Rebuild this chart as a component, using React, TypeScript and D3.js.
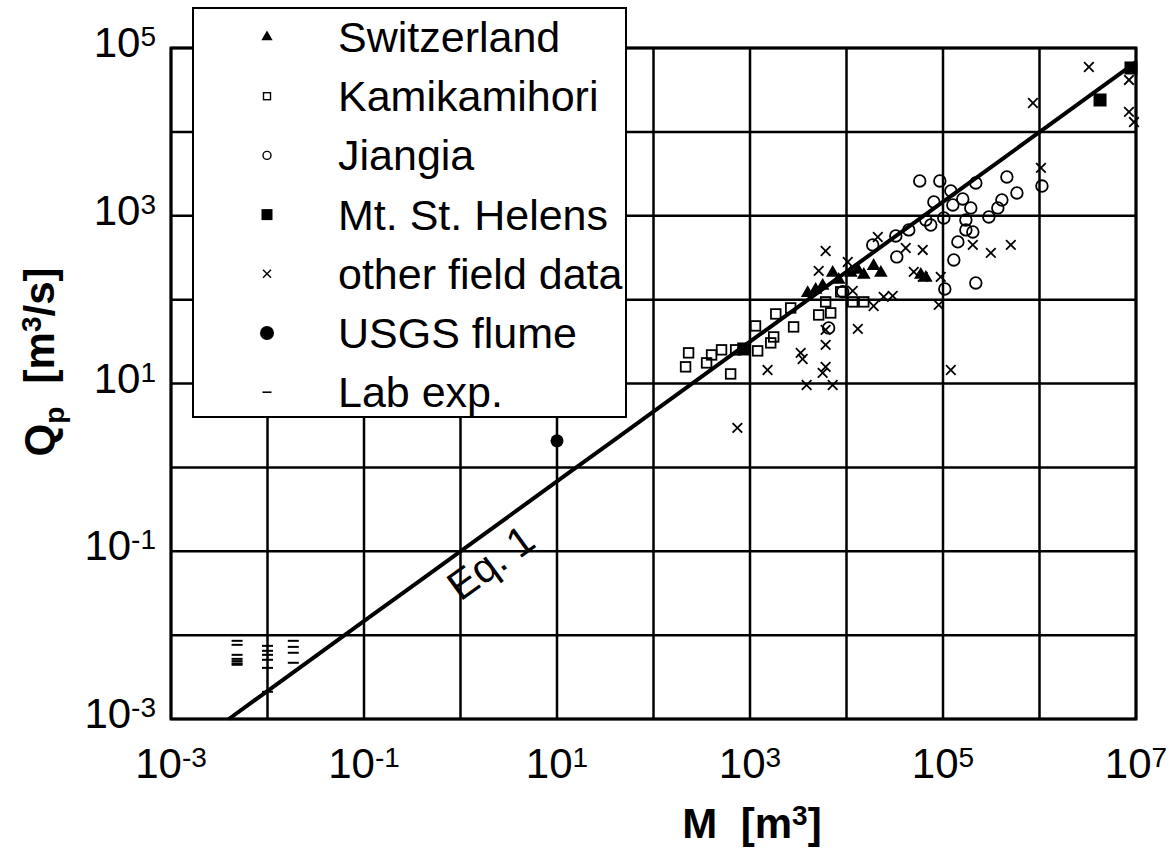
import React from 'react';
import * as d3 from 'd3';

// [M (m3), Qp (m3/s)]
const switzerland: [number, number][] = [
  [3960, 120], [4790, 131], [5660, 146], [7190, 208], [8300, 172], [11100, 208],
  [13100, 226], [15100, 197], [19100, 252], [22700, 208], [58900, 197], [66400, 182],
];

const kamikamihori: [number, number][] = [
  [231, 23.2], [215, 15.8], [355, 17.6], [400, 21.9], [507, 25.2], [630, 13.0],
  [710, 25.2], [1200, 24.5], [1140, 48.6], [1640, 30.5], [1760, 35.9], [1850, 67.5],
  [2830, 47.3], [2640, 79.6], [5150, 65.7], [6080, 94], [6860, 69.4], [8710, 124],
  [11600, 94], [15100, 94],
];

const jiangia: [number, number][] = [
  [57400, 2600], [92700, 2600], [120500, 1980], [80400, 1460], [126500, 1345],
  [160300, 1585], [218800, 2460], [194100, 1240], [101900, 942], [66400, 891],
  [44200, 678], [32400, 574], [74700, 776], [172600, 891], [172600, 678],
  [203700, 641], [142600, 488], [298500, 968], [369800, 1240], [407400, 1540],
  [459200, 2900], [583400, 1870], [1060000, 2260], [33200, 323], [129400, 297],
  [218800, 158], [104400, 134], [18700, 449], [6530, 46], [9140, 124],
];

const mtStHelens: [number, number][] = [
  [860, 25.8], [4240000, 24000], [8870000, 57800],
];

const otherField: [number, number][] = [
  [6080, 380], [5150, 220], [10300, 281], [21100, 558], [41100, 413], [61700, 391],
  [49800, 214], [61700, 187], [94800, 187], [203700, 449], [313300, 361],
  [504700, 449], [19100, 84], [24300, 108], [30100, 111], [11600, 127],
  [13100, 44.8], [90400, 86.5], [120500, 14.5], [6080, 43.6], [6080, 28.9],
  [3350, 23.2], [3510, 19.6], [6080, 15.8], [5660, 13.4], [1520, 14.5],
  [3860, 9.6], [7190, 9.6], [740, 2.96], [1035000, 3720], [3250000, 59400],
  [855000, 22100], [8460000, 41600], [8460000, 17300], [9530000, 13100],
];

const usgsFlume: [number, number][] = [[10, 2.07]];

const labExp: [number, number][] = [
  [0.00484, 0.00855], [0.00484, 0.00766], [0.00484, 0.00582], [0.00484, 0.00521],
  [0.00484, 0.0049], [0.00484, 0.0046], [0.00484, 0.00443],
  [0.01, 0.00745], [0.01, 0.0065], [0.01, 0.00582], [0.01, 0.00508],
  [0.01, 0.00407], [0.01, 0.00211],
  [0.0185, 0.00855], [0.0185, 0.00724], [0.0185, 0.00616], [0.0185, 0.00468],
];

const legendLabels = [
  'Switzerland', 'Kamikamihori', 'Jiangia', 'Mt. St. Helens',
  'other field data', 'USGS flume', 'Lab exp.',
];

const xGridExps = [-3, -2, -1, 0, 1, 2, 3, 4, 5, 6, 7];
const yGridExps = [-3, -2, -1, 0, 1, 2, 3, 4, 5];
const xTickExps = [-3, -1, 1, 3, 5, 7];
const yTickExps = [-3, -1, 1, 3, 5];

// Eq. 1: Qp = 0.1 * M^(5/6)
const EQ_COEF = 0.1;
const EQ_EXP = 0.833;

const FONT = '"Liberation Sans", Arial, Helvetica, sans-serif';

const x = d3.scaleLog().domain([1e-3, 1e7]).range([171, 1136]);
const y = d3.scaleLog().domain([1e-3, 1e5]).range([719, 48]);

function Cross({ cx, cy, s = 4.8, w = 1.8 }: { cx: number; cy: number; s?: number; w?: number }) {
  return (
    <g stroke="#000" strokeWidth={w}>
      <line x1={cx - s} y1={cy - s} x2={cx + s} y2={cy + s} />
      <line x1={cx - s} y1={cy + s} x2={cx + s} y2={cy - s} />
    </g>
  );
}

const triPath = (size: number) => d3.symbol(d3.symbolTriangle, size)() as string;

export default function App() {
  const [x0, x1] = x.range();
  const [y0, y1] = y.range();
  const mStart = Math.pow(1e-3 / EQ_COEF, 1 / EQ_EXP);
  const eqPts = d3.range(Math.log10(mStart), 7.0001, 0.5).map((e) => {
    const m = Math.pow(10, Math.min(e, 7));
    return [m, EQ_COEF * Math.pow(m, EQ_EXP)] as [number, number];
  });
  eqPts.push([1e7, EQ_COEF * Math.pow(1e7, EQ_EXP)]);
  const eqLine = d3.line<[number, number]>().x((d) => x(d[0])).y((d) => y(d[1]))(eqPts) as string;

  // text position for Eq. 1
  const mText = Math.pow(10, 0.15);
  const tx = x(mText);
  const ty = y(EQ_COEF * Math.pow(mText, EQ_EXP));
  const angle = (Math.atan2(y(EQ_COEF * Math.pow(10, EQ_EXP)) - y(EQ_COEF), x(10) - x(1)) * 180) / Math.PI;

  const legX = 193, legY = 8, legW = 433, legH = 409;
  const rowY = (i: number) => 37 + i * 59.2;
  const symX = 267, txtX = 338;

  return (
    <svg width={1176} height={848} style={{ position: 'absolute', left: 0, top: 0, background: '#fff' }} fontFamily={FONT}>
      <rect x={0} y={0} width={1176} height={848} fill="#fff" />
      {/* grid */}
      <g stroke="#000" strokeWidth={2.5}>
        {xGridExps.map((e) => (
          <line key={'gx' + e} x1={x(Math.pow(10, e))} x2={x(Math.pow(10, e))} y1={y0} y2={y1} />
        ))}
        {yGridExps.map((e) => (
          <line key={'gy' + e} y1={y(Math.pow(10, e))} y2={y(Math.pow(10, e))} x1={x0} x2={x1} />
        ))}
      </g>
      <rect x={x0} y={y1} width={x1 - x0} height={y0 - y1} fill="none" stroke="#000" strokeWidth={3} />

      {/* Eq. 1 line */}
      <path d={eqLine} fill="none" stroke="#000" strokeWidth={4} />
      <text
        x={tx}
        y={ty}
        transform={`rotate(${angle} ${tx} ${ty})`}
        textAnchor="middle"
        dy="1.0em"
        fontSize={41}
      >
        Eq. 1
      </text>

      {/* data */}
      <g>
        {kamikamihori.map((d, i) => (
          <rect key={'k' + i} x={x(d[0]) - 4.8} y={y(d[1]) - 4.8} width={9.6} height={9.6} fill="none" stroke="#000" strokeWidth={1.8} />
        ))}
        {jiangia.map((d, i) => (
          <circle key={'j' + i} cx={x(d[0])} cy={y(d[1])} r={5.8} fill="none" stroke="#000" strokeWidth={1.8} />
        ))}
        {otherField.map((d, i) => (
          <Cross key={'o' + i} cx={x(d[0])} cy={y(d[1])} />
        ))}
        {switzerland.map((d, i) => (
          <path key={'s' + i} d={triPath(80)} transform={`translate(${x(d[0])},${y(d[1])})`} fill="#000" />
        ))}
        {mtStHelens.map((d, i) => (
          <rect key={'m' + i} x={x(d[0]) - 6.5} y={y(d[1]) - 6.5} width={13} height={13} fill="#000" />
        ))}
        {usgsFlume.map((d, i) => (
          <circle key={'u' + i} cx={x(d[0])} cy={y(d[1])} r={6.5} fill="#000" />
        ))}
        {labExp.map((d, i) => (
          <line key={'l' + i} x1={x(d[0]) - 5.5} x2={x(d[0]) + 5.5} y1={y(d[1])} y2={y(d[1])} stroke="#000" strokeWidth={2} />
        ))}
      </g>

      {/* legend */}
      <rect x={legX} y={legY} width={legW} height={legH} fill="#fff" stroke="#000" strokeWidth={2} />
      <path d={triPath(55)} transform={`translate(${symX},${rowY(0)})`} fill="#000" />
      <rect x={symX - 3.5} y={rowY(1) - 3.5} width={7} height={7} fill="none" stroke="#000" strokeWidth={1.4} />
      <circle cx={symX} cy={rowY(2)} r={4} fill="none" stroke="#000" strokeWidth={1.4} />
      <rect x={symX - 5.5} y={rowY(3) - 5.5} width={11} height={11} fill="#000" />
      <Cross cx={symX} cy={rowY(4)} s={4} w={1.4} />
      <circle cx={symX} cy={rowY(5)} r={7} fill="#000" />
      <line x1={symX - 4.5} x2={symX + 4.5} y1={rowY(6)} y2={rowY(6)} stroke="#000" strokeWidth={1.6} />
      {legendLabels.map((t, i) => (
        <text key={'lt' + i} x={txtX} y={rowY(i) + 15} fontSize={43}>
          {t}
        </text>
      ))}

      {/* x tick labels */}
      {xTickExps.map((e) => (
        <text key={'xt' + e} x={x(Math.pow(10, e))} y={778} textAnchor="middle" fontSize={42}>
          10
          <tspan fontSize={28} dy={-11}>{e}</tspan>
        </text>
      ))}
      {/* y tick labels */}
      {yTickExps.map((e) => (
        <text key={'yt' + e} x={156} y={y(Math.pow(10, e)) + 9} textAnchor="end" fontSize={42}>
          10
          <tspan fontSize={28} dy={-11}>{e}</tspan>
        </text>
      ))}

      {/* axis titles */}
      <text x={752} y={838} textAnchor="middle" fontSize={42} fontWeight="bold">
        M{'\u00a0\u00a0'}[m<tspan fontSize={28} dy={-13}>3</tspan><tspan dy={13}>]</tspan>
      </text>
      <text
        transform="translate(54,362) rotate(-90)"
        textAnchor="middle"
        fontSize={42}
        fontWeight="bold"
      >
        Q<tspan fontSize={28} dy={10}>p</tspan>
        <tspan dy={-10}>{'\u00a0\u00a0'}[m</tspan>
        <tspan fontSize={28} dy={-13}>3</tspan>
        <tspan dy={13}>/s]</tspan>
      </text>
    </svg>
  );
}
